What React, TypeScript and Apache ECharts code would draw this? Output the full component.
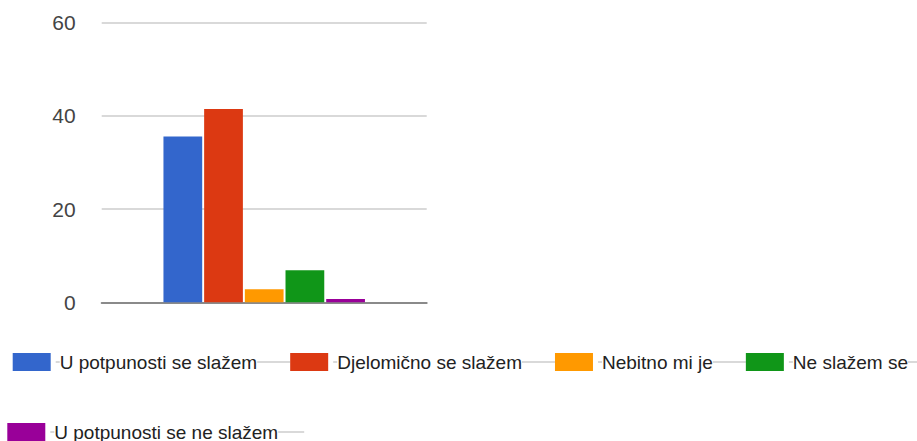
import React, { useEffect, useRef } from "react";
import * as echarts from "echarts";

const categories = [""];
const seriesNames = [
  "U potpunosti se slažem",
  "Djelomično se slažem",
  "Nebitno mi je",
  "Ne slažem se",
  "U potpunosti se ne slažem",
];
const seriesValues = [35.6, 41.5, 2.8, 6.9, 0.7];
const seriesColors = ["#3366cc", "#dc3912", "#ff9900", "#109618", "#990099"];
const yTicks = { min: 0, max: 60, interval: 20 };

const FONT = 'Arial, "Liberation Sans", sans-serif';

export default function App() {
  const ref = useRef<HTMLDivElement>(null);
  useEffect(() => {
    if (!ref.current) return;
    const chart = echarts.init(ref.current, undefined, { renderer: "svg" });
    const legendCommon = (trail: number) => ({
      orient: "horizontal",
      padding: 0,
      itemGap: 0,
      itemWidth: 38,
      itemHeight: 18,
      icon: "rect",
      width: 1400,
      selectedMode: false,
      formatter: (name: string) => `{d| }{t|${name}}{l| }`,
      textStyle: {
        fontFamily: FONT,
        fontSize: 19,
        color: "#222",
        rich: {
          d: { width: 4, height: 1.5, backgroundColor: "#cccccc", verticalAlign: "middle" },
          t: { fontFamily: FONT, fontSize: 19, color: "#222", lineHeight: 18, verticalAlign: "middle" },
          l: { width: trail, height: 1.5, backgroundColor: "#cccccc", verticalAlign: "middle" },
        },
      },
    });
    chart.setOption({
      animation: false,
      color: seriesColors,
      grid: { left: 101.7, right: 490.3, top: 22.7, bottom: 138.7, containLabel: false },
      legend: [
        { ...legendCommon(33), left: 12.7, top: 352.5, data: seriesNames.slice(0, 4) },
        { ...legendCommon(26), left: 7.3, top: 422.5, data: seriesNames.slice(4) },
      ],
      xAxis: {
        type: "category",
        data: categories,
        axisLabel: { show: false },
        axisTick: { show: false },
        axisLine: { show: true, lineStyle: { color: "#8a8a8a", width: 2 } },
        splitLine: { show: false },
      },
      yAxis: {
        type: "value",
        min: yTicks.min,
        max: yTicks.max,
        interval: yTicks.interval,
        axisLine: { show: false },
        axisTick: { show: false },
        axisLabel: { fontFamily: FONT, fontSize: 21, color: "#444", margin: 26 },
        splitLine: { lineStyle: { color: "#cccccc", width: 1.5 } },
      },
      series: seriesNames.map((name, i) => ({
        name,
        type: "bar",
        data: [seriesValues[i]],
        barCategoryGap: "38%",
        barGap: "5%",
        itemStyle: { color: seriesColors[i] },
      })),
    });
    return () => chart.dispose();
  }, []);
  return (
    <div
      ref={ref}
      style={{ position: "absolute", left: 0, top: 0, width: 917, height: 441 }}
    />
  );
}
